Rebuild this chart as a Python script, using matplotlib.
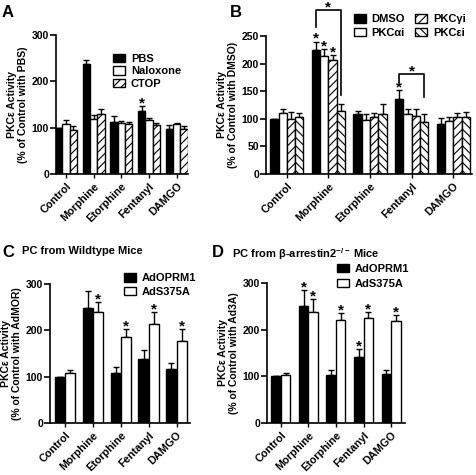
import matplotlib
matplotlib.use('Agg')
import matplotlib.pyplot as plt
import numpy as np

plt.rcParams['font.family'] = ['Liberation Sans', 'DejaVu Sans']
plt.rcParams['font.weight'] = 'bold'
plt.rcParams['axes.labelweight'] = 'bold'
plt.rcParams['hatch.linewidth'] = 0.8
plt.rcParams['mathtext.fontset'] = 'custom'
plt.rcParams['mathtext.rm'] = 'Liberation Sans:bold'
plt.rcParams['mathtext.it'] = 'Liberation Sans:bold'
plt.rcParams['mathtext.bf'] = 'Liberation Sans:bold'
plt.rcParams['mathtext.default'] = 'rm'

drugs = ['Control', 'Morphine', 'Etorphine', 'Fentanyl', 'DAMGO']

# panel A
a_names = ['PBS', 'Naloxone', 'CTOP']
a_pbs = [100, 237, 112, 135, 98]
a_nal = [108, 118, 109, 116, 107]
a_ctop = [96, 129, 107, 105, 98]
a_pbs_err = [0, 8, 13, 11, 7]
a_nal_err = [9, 9, 6, 5, 4]
a_ctop_err = [7, 12, 5, 6, 5]
a_pbs_star = [0, 0, 0, 1, 0]

# panel B
b_names = ['DMSO', 'PKCαi', 'PKCγi', 'PKCεi']
b_dmso = [100, 224, 108, 136, 90]
b_alpha = [110, 214, 98, 108, 96]
b_gamma = [100, 207, 104, 105, 104]
b_eps = [104, 114, 109, 95, 103]
b_dmso_err = [0, 16, 7, 16, 11]
b_alpha_err = [8, 13, 10, 9, 8]
b_gamma_err = [12, 9, 7, 12, 7]
b_eps_err = [6, 12, 17, 13, 10]
b_dmso_star = [0, 1, 0, 1, 0]
b_alpha_star = [0, 1, 0, 0, 0]
b_gamma_star = [0, 1, 0, 0, 0]
# brackets: (group, top, left end, right end)
b_brackets = [(1, 297, 266, 143), (3, 181, 166, 139)]

# panel C (wildtype)
c_names = ['AdOPRM1', 'AdS375A']
c_wt = [100, 249, 107, 139, 116]
c_mut = [107, 240, 186, 213, 178]
c_wt_err = [0, 35, 14, 19, 13]
c_mut_err = [8, 22, 16, 27, 24]
c_wt_star = [0, 0, 0, 0, 0]
c_mut_star = [0, 1, 1, 1, 1]

# panel D (beta-arrestin2 -/-)
d_wt = [100, 250, 103, 141, 104]
d_mut = [103, 237, 221, 225, 218]
d_wt_err = [0, 35, 10, 18, 9]
d_mut_err = [5, 28, 14, 13, 14]
d_wt_star = [0, 1, 0, 1, 0]
d_mut_star = [0, 1, 1, 1, 1]

styles = {'black': ('black', None), 'white': ('white', None),
          'fwd': ('white', '////'), 'back': ('white', '\\\\\\\\')}


def star(ax, x, y):
    ax.annotate('*', (x, y), xytext=(0, -1), textcoords='offset points',
                ha='center', va='baseline', fontsize=11, fontweight='bold',
                annotation_clip=False)


def draw(ax, series, errs, stars, names, kinds, width, xlim, ylim, yticks, ylabel):
    x = np.arange(len(drugs))
    n = len(series)
    for j in range(n):
        fc, hatch = styles[kinds[j]]
        pos = x + (j - (n - 1) / 2) * width
        ax.bar(pos, series[j], width, color=fc, edgecolor='black', linewidth=1,
               hatch=hatch, label=names[j], zorder=2)
        ax.errorbar(pos, series[j], yerr=[np.zeros(len(drugs)), errs[j]], fmt='none',
                    ecolor='black', elinewidth=1, capsize=2.5, capthick=1, zorder=1)
        for k in range(len(drugs)):
            if stars[j][k]:
                star(ax, pos[k], series[j][k] + errs[j][k])
    ax.set_xlim(*xlim)
    ax.set_ylim(*ylim)
    ax.set_yticks(yticks)
    ax.set_xticks(x)
    ax.set_xticklabels(drugs, rotation=45, ha='right', rotation_mode='anchor', fontsize=7.8)
    ax.tick_params(axis='y', labelsize=7.5, length=4, width=1.2, pad=1)
    ax.tick_params(axis='x', length=3, width=1, pad=2)
    for t in ax.get_yticklabels() + ax.get_xticklabels():
        t.set_fontweight('bold')
    for s in ['top', 'right']:
        ax.spines[s].set_visible(False)
    for s in ['left', 'bottom']:
        ax.spines[s].set_linewidth(1.2)
    ax.set_ylabel(ylabel, fontsize=7.5, fontweight='bold', labelpad=3, linespacing=1.1)


def legend(ax, x, y, spacing, **kw):
    ax.legend(loc='upper left', bbox_to_anchor=(x, y), bbox_transform=fig.transFigure,
              frameon=False, fontsize=8, handlelength=1.1, handleheight=0.8,
              handletextpad=0.5, labelspacing=spacing, borderpad=0, borderaxespad=0, **kw)


fig = plt.figure(figsize=(4.77, 4.75), dpi=100)

axA = fig.add_axes([0.1174, 0.6337, 0.2767, 0.2926])
draw(axA, [a_pbs, a_nal, a_ctop], [a_pbs_err, a_nal_err, a_ctop_err],
     [a_pbs_star, [0] * 5, [0] * 5], a_names, ['black', 'white', 'fwd'], 0.265,
     (-0.36, 4.41), (0, 300), [0, 100, 200, 300],
     'PKCε Activity\n(% of Control with PBS)')
legend(axA, 0.237, 0.887, 0.22)

axB = fig.add_axes([0.5577, 0.6337, 0.4319, 0.2905])
draw(axB, [b_dmso, b_alpha, b_gamma, b_eps],
     [b_dmso_err, b_alpha_err, b_gamma_err, b_eps_err],
     [b_dmso_star, b_alpha_star, b_gamma_star, [0] * 5], b_names,
     ['black', 'white', 'fwd', 'back'], 0.2,
     (-0.5, 4.45), (0, 250), [0, 50, 100, 150, 200, 250],
     'PKCε Activity\n(% of Control with DMSO)')
for g, top, yl, yr in b_brackets:
    xl = g - 1.5 * 0.2
    xr = g + 1.5 * 0.2
    axB.plot([xl, xl, xr, xr], [yl, top, top, yr], color='black', lw=1.2,
             clip_on=False, zorder=3)
    star(axB, (xl + xr) / 2, top)
legend(axB, 0.742, 0.97, 0.3, ncol=2, columnspacing=0.9)

axC = fig.add_axes([0.1048, 0.1095, 0.2935, 0.2926])
draw(axC, [c_wt, c_mut], [c_wt_err, c_mut_err], [c_wt_star, c_mut_star], c_names,
     ['black', 'white'], 0.37, (-0.54, 4.48), (0, 300), [0, 100, 200, 300],
     'PKCε Activity\n(% of Control with AdMOR)')
legend(axC, 0.26, 0.425, 0.3)

axD = fig.add_axes([0.5597, 0.1095, 0.2893, 0.2947])
draw(axD, [d_wt, d_mut], [d_wt_err, d_mut_err], [d_wt_star, d_mut_star], c_names,
     ['black', 'white'], 0.345, (-0.5, 4.5), (0, 300), [0, 100, 200, 300],
     'PKCε Activity\n(% of Control with Ad3A)')
legend(axD, 0.706, 0.445, 0.45)

fig.text(0.004, 0.99, 'A', fontsize=12, fontweight='bold', va='top')
fig.text(0.482, 0.99, 'B', fontsize=12, fontweight='bold', va='top')
fig.text(0.004, 0.485, 'C', fontsize=12, fontweight='bold', va='top')
fig.text(0.445, 0.485, 'D', fontsize=12, fontweight='bold', va='top')
fig.text(0.046, 0.482, 'PC from Wildtype Mice', fontsize=8, fontweight='bold', va='top')
fig.text(0.486, 0.482, 'PC from β-arrestin2$^{-/-}$ Mice', fontsize=8,
         fontweight='bold', va='top')

fig.savefig('out.png', dpi=100)
